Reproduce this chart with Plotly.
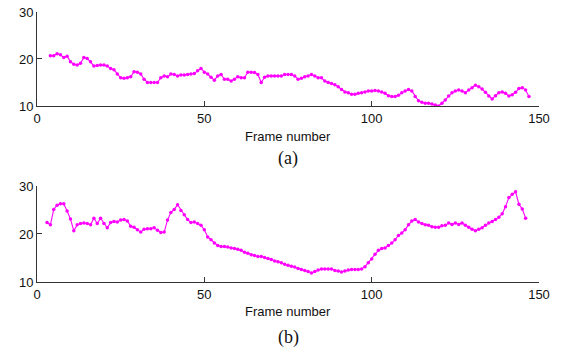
import plotly.graph_objects as go

frames_a = list(range(4, 148))
values_a = [
    20.7, 20.7, 21.1, 20.9, 20.3, 20.6, 19.4, 18.9, 18.7, 19.1,
    20.3, 20.1, 19.4, 18.5, 18.6, 18.7, 18.7, 18.5, 18.0, 17.7,
    16.8, 16.0, 15.9, 16.0, 16.2, 17.3, 17.2, 16.8, 15.7, 15.0,
    15.0, 15.0, 15.0, 16.0, 16.4, 16.2, 16.8, 16.7, 16.4, 16.6,
    16.6, 16.7, 16.8, 16.9, 17.5, 18.0, 17.2, 16.8, 16.1, 15.5,
    16.4, 16.7, 15.7, 15.7, 15.3, 15.7, 16.2, 16.0, 16.0, 17.2,
    17.2, 17.1, 16.7, 15.0, 16.1, 16.4, 16.4, 16.4, 16.4, 16.4,
    16.7, 16.7, 16.7, 16.4, 15.7, 15.9, 16.2, 16.4, 16.7, 16.4,
    16.0, 16.0, 15.3, 15.0, 14.8, 14.5, 14.1, 13.5, 13.0, 12.8,
    12.5, 12.5, 12.7, 12.8, 13.0, 13.2, 13.2, 13.3, 13.2, 13.0,
    12.7, 12.2, 12.0, 12.0, 12.3, 12.8, 13.2, 13.5, 13.2, 12.0,
    11.1, 10.8, 10.6, 10.6, 10.4, 10.2, 10.0, 10.6, 11.3, 12.1,
    12.8, 13.2, 13.4, 13.2, 12.8, 13.4, 13.9, 14.4, 14.1, 13.6,
    12.9, 12.1, 11.5, 12.2, 12.8, 13.0, 12.7, 12.1, 12.4, 12.9,
    13.7, 13.9, 13.4, 12.0,
]

frames_b = list(range(3, 147))
values_b = [
    22.4, 21.9, 25.1, 26.0, 26.3, 26.3, 24.8, 23.1, 20.7, 21.9,
    22.2, 22.3, 22.2, 21.9, 23.3, 22.2, 23.3, 22.2, 21.3, 22.4,
    22.6, 22.5, 22.9, 23.0, 22.7, 21.6, 21.4, 20.9, 20.4, 21.0,
    21.1, 21.1, 21.3, 20.8, 20.3, 20.4, 22.9, 24.5, 25.1, 26.1,
    24.9, 24.0, 23.0, 22.4, 22.5, 22.2, 21.8, 20.9, 19.4, 18.8,
    18.1, 17.6, 17.4, 17.4, 17.3, 17.1, 17.0, 16.8, 16.6, 16.2,
    16.0, 15.7, 15.5, 15.3, 15.3, 15.1, 14.9, 14.7, 14.4, 14.2,
    14.0, 13.7, 13.5, 13.3, 13.1, 12.8, 12.6, 12.4, 12.2, 11.9,
    12.2, 12.5, 12.7, 12.7, 12.7, 12.7, 12.4, 12.3, 12.1, 12.3,
    12.5, 12.6, 12.6, 12.6, 12.7, 13.2, 14.0, 14.8, 15.8, 16.6,
    17.0, 17.1, 17.6, 18.1, 18.8, 19.7, 20.2, 20.9, 21.9, 22.7,
    23.0, 22.5, 22.2, 21.9, 21.8, 21.5, 21.4, 21.4, 21.7, 21.8,
    22.3, 22.0, 22.3, 22.0, 22.3, 21.8, 21.4, 21.0, 20.7, 21.0,
    21.3, 21.8, 22.3, 22.6, 23.0, 23.5, 24.2, 25.7, 27.6, 28.3,
    28.8, 26.2, 25.2, 23.3,
]

x_ticks = [0, 50, 100, 150]
y_ticks = [10, 20, 30]
x_title = "Frame number"
captions = ["(a)", "(b)"]

MAG = "#FF00FF"
fig = go.Figure()
fig.add_trace(go.Scatter(x=frames_a, y=values_a, mode="lines+markers",
                         line=dict(color=MAG, width=1.1),
                         marker=dict(color=MAG, size=3.5),
                         xaxis="x", yaxis="y", showlegend=False))
fig.add_trace(go.Scatter(x=frames_b, y=values_b, mode="lines+markers",
                         line=dict(color=MAG, width=1.1),
                         marker=dict(color=MAG, size=3.5),
                         xaxis="x2", yaxis="y2", showlegend=False))

axis_common = dict(showgrid=False, zeroline=False, showline=True, automargin=False,
                   linecolor="#333333", linewidth=1, ticks="inside",
                   ticklen=5, tickcolor="#333333",
                   tickfont=dict(family="Liberation Sans, Arial", size=13, color="#111111"))

fig.update_layout(
    width=562, height=356,
    margin=dict(l=37, r=23, t=12, b=74),
    paper_bgcolor="white", plot_bgcolor="white",
    xaxis=dict(domain=[0, 1], range=[0, 150], tickvals=x_ticks, anchor="y", **axis_common),
    yaxis=dict(domain=[0.6519, 1.0], range=[10, 30], tickvals=y_ticks, anchor="x", **axis_common),
    xaxis2=dict(domain=[0, 1], range=[0, 150], tickvals=x_ticks, anchor="y2", **axis_common),
    yaxis2=dict(domain=[0, 0.3556], range=[10, 30], tickvals=y_ticks, anchor="x2", **axis_common),
)

ann_font = dict(family="Liberation Sans, Arial", size=13, color="#111111")
cap_font = dict(family="Liberation Serif, Times New Roman", size=18, color="#111111")
fig.add_annotation(x=0.5, y=0.5407, xref="paper", yref="paper", text=x_title,
                   showarrow=False, font=ann_font, yanchor="middle")
fig.add_annotation(x=0.5, y=0.459, xref="paper", yref="paper", text=captions[0],
                   showarrow=False, font=cap_font, yanchor="middle")
fig.add_annotation(x=0.5, y=-0.111, xref="paper", yref="paper", text=x_title,
                   showarrow=False, font=ann_font, yanchor="middle")
fig.add_annotation(x=0.5, y=-0.207, xref="paper", yref="paper", text=captions[1],
                   showarrow=False, font=cap_font, yanchor="middle")

fig.write_html("out.html", config={"displayModeBar": False},
               post_script="document.body.style.margin='0px';")
